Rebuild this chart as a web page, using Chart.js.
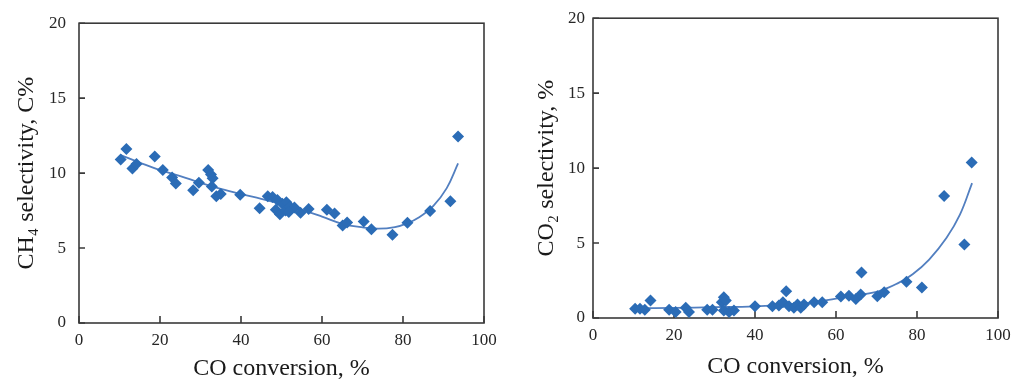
<!DOCTYPE html>
<html><head><meta charset="utf-8">
<script src="https://cdn.jsdelivr.net/npm/chart.js@4"></script>
<style>
html,body{margin:0;padding:0;background:#fff;width:1024px;height:390px;overflow:hidden}
canvas{position:absolute;top:0}
</style></head>
<body>
<canvas id="c1" width="512" height="390" style="left:0"></canvas>
<canvas id="c2" width="512" height="390" style="left:512px"></canvas>
<script>
// ---- Left panel: CH4 selectivity ----
const ch4X = [10.3,11.7,13.2,14.2,18.7,20.7,23.0,23.9,28.2,29.6,31.9,32.6,33.0,32.8,33.9,35.0,39.8,44.6,46.6,47.8,49.0,48.6,49.6,50.2,51.2,51.0,52.1,53.2,51.8,54.7,56.7,61.2,63.1,65.1,66.2,70.3,72.2,77.4,81.1,86.7,91.7,93.6];
const ch4Y = [10.9,11.6,10.3,10.6,11.1,10.2,9.7,9.3,8.85,9.35,10.2,9.9,9.65,9.1,8.45,8.6,8.55,7.65,8.45,8.4,8.2,7.55,7.25,7.95,8.05,7.5,7.75,7.7,7.4,7.35,7.6,7.55,7.3,6.5,6.7,6.77,6.25,5.88,6.69,7.47,8.13,12.44];
const ch4FitX = [10.3,15,20,25,30,35,40,45,50,55,60,65,70,74,78,81,84,87.5,90.8,93.6];
const ch4FitY = [11.2,10.7,10.2,9.8,9.35,8.95,8.6,8.28,7.93,7.55,7.1,6.62,6.38,6.29,6.4,6.65,7.06,7.82,9.0,10.65];

// ---- Right panel: CO2 selectivity ----
const co2X = [10.4,11.6,12.8,14.2,18.8,20.4,22.9,23.7,28.2,29.5,31.8,32.3,32.8,32.3,33.6,34.8,40.0,44.3,45.9,46.9,47.7,48.4,49.6,50.5,51.3,52.1,54.6,56.6,61.2,63.2,64.9,66.1,66.3,70.2,71.9,77.4,81.2,86.7,91.7,93.5];
const co2Y = [0.61,0.61,0.55,1.16,0.55,0.4,0.68,0.4,0.55,0.55,1.05,1.38,1.16,0.5,0.4,0.5,0.79,0.79,0.83,1.05,1.78,0.79,0.68,0.9,0.68,0.9,1.05,1.05,1.43,1.49,1.27,1.56,3.03,1.45,1.71,2.41,2.04,8.14,4.9,10.38];
const co2FitX = [10.4,20,30,40,50,55,60,65,70,72,75,79,83,87.3,90.6,93.6];
const co2FitY = [0.65,0.68,0.72,0.78,0.92,1.05,1.3,1.5,1.75,1.93,2.28,2.94,3.9,5.35,6.89,9.0];

const xTicksStep = 20, yTicksStep = 5;
const xTitle = 'CO conversion, %';
const leftYTitle = 'CH\u2084 selectivity, C%';
const rightYTitle = 'CO\u2082 selectivity, %';

const MARK = '#2b6cb6';
const LINE = '#527fc0';
const SERIF = "'Liberation Serif','Times New Roman',serif";

const framePlugin = {
  id: 'frame',
  beforeDatasetsDraw(chart) {
    const {ctx, chartArea: a, scales: {x, y}} = chart;
    ctx.save();
    ctx.strokeStyle = '#3a3a3a';
    ctx.lineWidth = 1.6;
    ctx.strokeRect(a.left, a.top, a.right - a.left, a.bottom - a.top);
    ctx.beginPath();
    x.ticks.forEach(t => { const px = x.getPixelForValue(t.value); ctx.moveTo(px, a.bottom); ctx.lineTo(px, a.bottom - 7); });
    y.ticks.forEach(t => { const py = y.getPixelForValue(t.value); ctx.moveTo(a.left, py); ctx.lineTo(a.left + 6, py); });
    ctx.stroke();
    ctx.restore();
  }
};

function pts(xs, ys) { return xs.map((x, i) => ({x, y: ys[i]})); }

function makeChart(id, xs, ys, fx, fy, yTitle, geo) {
  return new Chart(document.getElementById(id), {
    type: 'scatter',
    data: {
      datasets: [
        { data: pts(fx, fy), showLine: true, borderColor: LINE, borderWidth: 1.8, pointRadius: 0,
          tension: 0.4, fill: false, order: 2 },
        { data: pts(xs, ys), pointStyle: 'rectRot', pointRadius: 6, pointHoverRadius: 6,
          backgroundColor: MARK, borderColor: MARK, borderWidth: 0, order: 1 }
      ]
    },
    options: {
      responsive: false, animation: false,
      layout: { padding: { top: geo.top, right: geo.right, left: 0, bottom: 0 } },
      plugins: { legend: { display: false }, tooltip: { enabled: false } },
      scales: {
        x: {
          type: 'linear', min: 0, max: 100,
          afterFit: s => { s.height = geo.xh; },
          grid: { display: false, drawTicks: false },
          border: { display: false },
          ticks: { stepSize: xTicksStep, padding: 7, color: '#262626', font: { family: SERIF, size: 17 } },
          title: { display: true, text: xTitle, color: '#1a1a1a', padding: { top: 0, bottom: geo.xtp },
                   font: { family: SERIF, size: 24 } }
        },
        y: {
          type: 'linear', min: 0, max: 20,
          afterFit: s => { s.width = geo.yw; },
          grid: { display: false, drawTicks: false },
          border: { display: false },
          ticks: { stepSize: yTicksStep, padding: geo.ypad, color: '#262626', font: { family: SERIF, size: 17 } },
          title: { display: true, text: yTitle, color: '#1a1a1a', padding: { top: geo.ytp, bottom: 0 },
                   font: { family: SERIF, size: 24 } }
        }
      }
    },
    plugins: [framePlugin]
  });
}

makeChart('c1', ch4X, ch4Y, ch4FitX, ch4FitY, leftYTitle,
  { top: 17, right: 28, xh: 67, yw: 79, xtp: 7, ytp: 12, ypad: 13 });
makeChart('c2', co2X, co2Y, co2FitX, co2FitY, rightYTitle,
  { top: 14, right: 26, xh: 72, yw: 81, xtp: 9, ytp: 20, ypad: 8 });
</script>
</body></html>
